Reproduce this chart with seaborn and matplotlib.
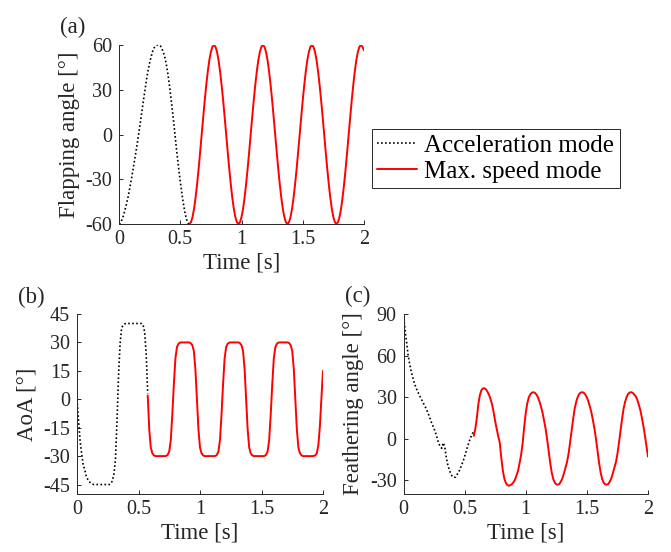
import numpy as np
import matplotlib
matplotlib.use("Agg")
import matplotlib.pyplot as plt
import seaborn as sns

# time samples [s]
t_acc = [0, 0.0125, 0.025, 0.0375, 0.05, 0.0625, 0.075, 0.0875,
         0.1, 0.1125, 0.125, 0.1375, 0.15, 0.1625, 0.175, 0.1875,
         0.2, 0.2125, 0.225, 0.2375, 0.25, 0.2625, 0.275, 0.2875,
         0.3, 0.3125, 0.325, 0.3375, 0.35, 0.3625, 0.375, 0.3875,
         0.4, 0.4125, 0.425, 0.4375, 0.45, 0.4625, 0.475, 0.4875,
         0.5, 0.5125, 0.525, 0.5375, 0.55, 0.5625, 0.575]

t_max = [0.575, 0.5875,
         0.6, 0.6125, 0.625, 0.6375, 0.65, 0.6625, 0.675, 0.6875,
         0.7, 0.7125, 0.725, 0.7375, 0.75, 0.7625, 0.775, 0.7875,
         0.8, 0.8125, 0.825, 0.8375, 0.85, 0.8625, 0.875, 0.8875,
         0.9, 0.9125, 0.925, 0.9375, 0.95, 0.9625, 0.975, 0.9875,
         1.0, 1.0125, 1.025, 1.0375, 1.05, 1.0625, 1.075, 1.0875,
         1.1, 1.1125, 1.125, 1.1375, 1.15, 1.1625, 1.175, 1.1875,
         1.2, 1.2125, 1.225, 1.2375, 1.25, 1.2625, 1.275, 1.2875,
         1.3, 1.3125, 1.325, 1.3375, 1.35, 1.3625, 1.375, 1.3875,
         1.4, 1.4125, 1.425, 1.4375, 1.45, 1.4625, 1.475, 1.4875,
         1.5, 1.5125, 1.525, 1.5375, 1.55, 1.5625, 1.575, 1.5875,
         1.6, 1.6125, 1.625, 1.6375, 1.65, 1.6625, 1.675, 1.6875,
         1.7, 1.7125, 1.725, 1.7375, 1.75, 1.7625, 1.775, 1.7875,
         1.8, 1.8125, 1.825, 1.8375, 1.85, 1.8625, 1.875, 1.8875,
         1.9, 1.9125, 1.925, 1.9375, 1.95, 1.9625, 1.975, 1.9875,
         2.0]

# (a) flapping angle [deg]
flap_acc = [-60, -59.3, -57, -54, -50.3, -46, -41.5, -36,
            -30.5, -24.5, -18.3, -12, -5.5, 1.5, 8.5, 16,
            23, 30, 37, 43, 48, 52.3, 55.8, 58.2,
            59.5, 60, 60, 59.5, 57.6, 55, 51.5, 46.5,
            40, 32.5, 24, 15, 5.5, -4.5, -14, -23,
            -31.5, -39, -46, -52, -56.5, -59.3, -60]

flap_max = [-60, -58.8,
            -55.4, -49.9, -42.4, -33.3, -23.0, -11.7, 0, 11.7,
            23.0, 33.3, 42.4, 49.9, 55.4, 58.8, 60, 58.8,
            55.4, 49.9, 42.4, 33.3, 23.0, 11.7, 0, -11.7,
            -23.0, -33.3, -42.4, -49.9, -55.4, -58.8, -60, -58.8,
            -55.4, -49.9, -42.4, -33.3, -23.0, -11.7, 0, 11.7,
            23.0, 33.3, 42.4, 49.9, 55.4, 58.8, 60, 58.8,
            55.4, 49.9, 42.4, 33.3, 23.0, 11.7, 0, -11.7,
            -23.0, -33.3, -42.4, -49.9, -55.4, -58.8, -60, -58.8,
            -55.4, -49.9, -42.4, -33.3, -23.0, -11.7, 0, 11.7,
            23.0, 33.3, 42.4, 49.9, 55.4, 58.8, 60, 58.8,
            55.4, 49.9, 42.4, 33.3, 23.0, 11.7, 0, -11.7,
            -23.0, -33.3, -42.4, -49.9, -55.4, -58.8, -60, -58.8,
            -55.4, -49.9, -42.4, -33.3, -23.0, -11.7, 0, 11.7,
            23.0, 33.3, 42.4, 49.9, 55.4, 58.8, 60, 58.8,
            56.5]

# (b) angle of attack [deg]
aoa_acc = [0, -11, -22, -28.5, -34.5, -37, -40.5, -42.3,
           -43.5, -44.3, -44.8, -45, -45, -45, -45, -45,
           -45, -45, -45, -45, -45, -45, -44.6, -43,
           -39.5, -32, -12, 12, 29, 37.5, 39.2, 39.8,
           40, 40, 40, 40, 40, 40, 40, 40,
           40, 40, 40, 39.2, 35.5, 24, 3]

aoa_max = [2, -16,
           -25.5, -28.5, -29.6, -30, -30, -30, -30, -30,
           -30, -30, -29.9, -29.3, -27.5, -21.5, -8, 8,
           21.5, 27.5, 29.3, 29.9, 30, 30, 30, 30,
           30, 30, 29.6, 28.5, 25.5, 16, 0, -16,
           -25.5, -28.5, -29.6, -30, -30, -30, -30, -30,
           -30, -30, -29.9, -29.3, -27.5, -21.5, -8, 8,
           21.5, 27.5, 29.3, 29.9, 30, 30, 30, 30,
           30, 30, 29.6, 28.5, 25.5, 16, 0, -16,
           -25.5, -28.5, -29.6, -30, -30, -30, -30, -30,
           -30, -30, -29.9, -29.3, -27.5, -21.5, -8, 8,
           21.5, 27.5, 29.3, 29.9, 30, 30, 30, 30,
           30, 30, 29.6, 28.5, 25.5, 16, 0, -16,
           -25.5, -28.5, -29.6, -30, -30, -30, -30, -30,
           -30, -30, -29.9, -29.6, -28.5, -24, -14, 1,
           15]

# (c) feathering angle [deg]
feat_acc = [90, 78.5, 70, 60.5, 54, 48.8, 44.5, 40.5,
            37.3, 34.6, 32.2, 30, 27.8, 25.6, 23.5, 21.2,
            18.6, 15.8, 12.5, 9.8, 7.2, 4, 0.5, -3.5,
            -5.5, -7, -3, -6, -13.5, -19, -22.6, -25.5,
            -27.5, -28, -27.8, -26, -24.5, -22, -19.2, -16.2,
            -13, -9, -5.5, -2, 1, 3.5, 5]

feat_max = [2, 7,
            15, 25, 31.5, 35, 36.3, 36.4, 35.5, 33.8,
            31.5, 28.5, 24.5, 19, 12.5, 7, 1.7, -3,
            -14, -23, -29, -32, -33.6, -34, -33.6, -32.8,
            -31.5, -29.5, -26.5, -23, -17.5, -11.5, -3, 8.5,
            18.5, 25.5, 29.8, 32, 33.2, 33.5, 33.1, 31.8,
            29.8, 26.8, 23, 18.7, 13, 7, -0.5, -9,
            -17.5, -24.5, -29.2, -31.8, -33, -33.3, -32.8, -31,
            -28.6, -25, -21, -17, -11, -3, 5.5, 14,
            21.5, 26.5, 30, 32.3, 33.3, 33.5, 33.1, 31.8,
            29.8, 26.8, 23, 18.7, 13, 7, -0.5, -9,
            -17.5, -24.5, -29.2, -31.8, -33, -33.3, -32.8, -31,
            -28.6, -25, -21, -17, -11, -3, 5.5, 14,
            21.5, 26.5, 30, 32.3, 33.3, 33.5, 33.1, 31.8,
            30.5, 28, 24.5, 20.5, 15, 9, 2, -5.5,
            -13]

x_ticks = [0, 0.5, 1, 1.5, 2]
x_tick_labels = ["0", "0.5", "1", "1.5", "2"]
legend_labels = ["Acceleration mode", "Max. speed mode"]

# %%
sns.set_theme(style="ticks")
dark = "#262626"
plt.rcParams.update({
    "font.family": ["Liberation Serif", "DejaVu Serif"],
    "axes.unicode_minus": False,
    "xtick.direction": "in",
    "ytick.direction": "in",
    "xtick.major.size": 3,
    "ytick.major.size": 3,
    "xtick.major.width": 0.7,
    "ytick.major.width": 0.7,
    "xtick.major.pad": 4,
    "ytick.major.pad": 5,
    "axes.linewidth": 0.7,
    "axes.edgecolor": dark,
    "xtick.color": dark,
    "ytick.color": dark,
    "text.color": dark,
    "axes.labelcolor": dark,
    "xtick.labelsize": 14.5,
    "ytick.labelsize": 14.5,
    "axes.labelsize": 16.5,
})

fig = plt.figure(figsize=(6.71, 5.52), dpi=100)
W, H = 671, 552


def px_axes(left, top, right, bottom):
    return fig.add_axes([left / W, 1 - bottom / H, (right - left) / W, (bottom - top) / H])


ax_a = px_axes(119, 45, 364, 224)
ax_b = px_axes(77, 314, 323, 494)
ax_c = px_axes(403.5, 314, 648, 494)

acc_style = dict(color="black", linewidth=1.2, linestyle=(0, (1, 1.4)))
max_style = dict(color="#ff0000", linewidth=1.4)

panels = [
    (ax_a, flap_acc, flap_max, "Flapping angle [°]", (-60, 60), [-60, -30, 0, 30, 60]),
    (ax_b, aoa_acc, aoa_max, "AoA [°]", (-50, 45), [-45, -30, -15, 0, 15, 30, 45]),
    (ax_c, feat_acc, feat_max, "Feathering angle [°]", (-40, 90), [-30, 0, 30, 60, 90]),
]

for ax, y_acc, y_max, ylabel, ylim, yticks in panels:
    sns.lineplot(x=t_acc, y=y_acc, ax=ax, sort=False, legend=False,
                 label=legend_labels[0], **acc_style)
    sns.lineplot(x=t_max, y=y_max, ax=ax, sort=False, legend=False,
                 label=legend_labels[1], **max_style)
    ax.set_xlim(0, 2)
    ax.set_ylim(*ylim)
    ax.set_xticks(x_ticks)
    ax.set_xticklabels(x_tick_labels)
    ax.set_yticks(yticks)
    ax.set_xlabel("Time [s]", labelpad=3)
    ax.set_ylabel(ylabel, labelpad=4)
    sns.despine(ax=ax)

# panel tags
fig.text(60 / W, 1 - 33 / H, "(a)", fontsize=16.5, va="baseline")
fig.text(18 / W, 1 - 303 / H, "(b)", fontsize=16.5, va="baseline")
fig.text(345 / W, 1 - 302 / H, "(c)", fontsize=16.5, va="baseline")

handles = ax_a.get_lines()[:2]
leg = fig.legend(handles, legend_labels, loc="upper left",
                 bbox_to_anchor=(372 / W, 1 - 129 / H), fontsize=18,
                 frameon=True, fancybox=False, framealpha=1,
                 handlelength=1.6, handletextpad=0.3, borderpad=0.2,
                 labelspacing=0.15, borderaxespad=0)
leg.get_frame().set_edgecolor(dark)
leg.get_frame().set_linewidth(0.7)
for txt in leg.get_texts():
    txt.set_color("black")

fig.savefig("out.png", dpi=100)
